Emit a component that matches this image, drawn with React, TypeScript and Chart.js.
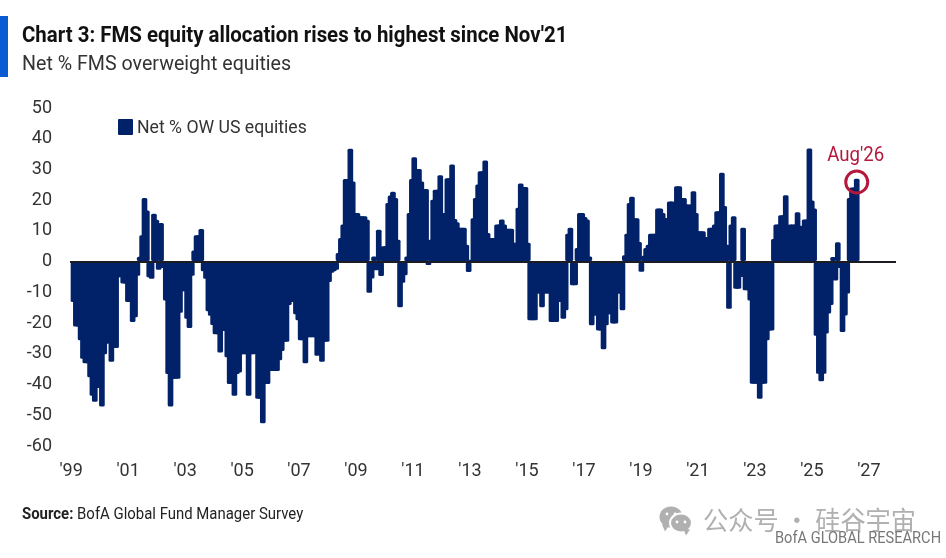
import React, { useEffect, useRef } from "react";
import { Chart, registerables } from "chart.js";

Chart.register(...registerables);

const seriesName = "Net % OW US equities";
const startYear = 1999;
const tickYears = [1999, 2001, 2003, 2005, 2007, 2009, 2011, 2013, 2015, 2017, 2019, 2021, 2023, 2025, 2027];
const yTicks = [50, 40, 30, 20, 10, 0, -10, -20, -30, -40, -50, -60];
const highlightLabel = "Aug'26";

const values1999to2008 = [
  -13, -21, -21, -25.5, -31.5, -33, -33, -37.5, -43.5, -45.5, -41, -41,
  -47, -30, -26.5, -26.5, -32.5, -28, -28, -5, -5, -7, -7, -13,
  -13, -19.5, -18, -4.5, 1.5, 8.5, 20.6, 16.5, -5, -5.5, 15.5, 13.5,
  -2.5, 12.5, -2, -12.5, -36.5, -47, -38, -38, -38, -16.5, -9.5, -9.5,
  -18.5, -21.5, -4.5, 3.5, 8.5, 8.5, 10.5, -3, -5.5, -16, -17.5, -20.5,
  -23.5, -23.5, -29.5, -22.5, -22.5, -31, -39.7, -38, -43.5, -36.5, -36, -30,
  -30, -30, -43.5, -30, -30, -29, -44.5, -44.5, -52.5, -39.7, -39.7, -35.5,
  -35.5, -35.5, -35.5, -32, -29, -26, -26, -14, -13, -13, -17, -19,
  -25.5, -25.5, -33, -24.5, -24.5, -24.5, -24.5, -30.5, -30, -32.5, -26, -26,
];
const values2008to2017 = [
  -6.5, -3.5, -3, -2.5, 2.7, 7.6, 12, 26.8, 26.8, 36.6, 26, 15.7,
  15.7, 14.7, 14.7, 14.7, 13.5, -10, -5.4, 1.6, -2.7, 10.3, -4.6, 4.9,
  4.9, 19, 21.4, 22.6, 20.6, 7, -14.7, -6.8, -4.3, 1.6, 15.7, 26.8,
  33.9, 30, 30, 26, 23.5, 23.5, -1, 7, 20, 23.3, 23.3, 28,
  15.7, 15.7, 27, 27, 31.5, 13.8, 12.7, 10.9, 10.9, 10.9, 5.4, -3.3,
  0.5, 14, 20.6, 25, 29.3, 29.3, 32.8, 9.2, 7.6, 7.6, 7.6, 12,
  12, 13.6, 12, 10.6, 10.6, 10.6, 6, 6, 17.4, 25.3, 24.2, 24.2,
  6, -19, -19, -19, -10.3, -10.3, -14.7, -10.3, -10.3, -10.3, -19.5, -19.5,
  -19.5, -13, -13, -18.5, -15.7, 9, 10.9, -7.6, -7.6, 4.3, 15.7, 15.7,
];
const values2017to2026 = [
  14.4, 13.6, 1.6, -20.6, -17.4, -17.4, -22.3, -22.3, -28.4, -20.6, -17, -17,
  -20, -20, -10.3, -10.3, -15.7, 2, 9, 19, 21, 14, 14, 6.3,
  -3.2, 1.8, 4.3, 5.4, 9, 9, 9, 17.2, 17.2, 15.7, 14.1, 9,
  19.5, 19.5, 9, 24.4, 24.4, 20.6, 20.6, 18.5, 18.5, 18.5, 22.8, 15.7,
  9.8, 9.8, 9.8, 7.9, 6.5, 10.9, 10.9, 12, 16.3, 16.3, 28.8, 18,
  5.4, -15.2, 12, 14.7, -8.7, -8.7, -4.9, 10.9, -9.2, -9.2, -12.5, -39.6,
  -39.6, -39.6, -44.5, -39.6, -39.6, -25.5, -22.3, -22.3, 7.3, 12, 12, 15,
  15, 21.5, 10.3, 12, 12, 12, 16, 11.6, 10.5, 13.6, 13.6, 36.7,
  19.8, 17.2, -24, -36.4, -38.8, -36.4, -23.3, -16.8, -14, 1.4, -6, 6.2,
  -2, -22.8, -17.4, -10.3, 20.6, 24, 24, 26.9,
];
const values = [...values1999to2008, ...values2008to2017, ...values2017to2026];

const NAVY = "#012169";
const TEXT = "#333333";
const FONT = "Roboto";

const overlayPlugin = {
  id: "overlay",
  afterDraw(chart: any) {
    const { ctx, scales } = chart;
    const last = values.length - 1;
    const cx = scales.x.getPixelForValue(last);
    const cy = scales.y.getPixelForValue(values[last]) + 3;
    ctx.save();
    ctx.strokeStyle = "#B5173D";
    ctx.lineWidth = 3;
    ctx.beginPath();
    ctx.arc(cx, cy, 11, 0, Math.PI * 2);
    ctx.stroke();
    ctx.fillStyle = "#B5173D";
    ctx.font = `20px ${FONT}`;
    ctx.textAlign = "center";
    ctx.textBaseline = "alphabetic";
    ctx.fillText(highlightLabel, cx - 1, cy - 21, 57);
    // WeChat-style watermark glyph
    ctx.fillStyle = "#b0b0b0";
    const bubble = (x: number, y: number, rx: number, ry: number, tx: number) => {
      ctx.beginPath();
      ctx.ellipse(x, y, rx, ry, 0, 0, Math.PI * 2);
      ctx.fill();
      ctx.beginPath();
      ctx.moveTo(x + tx - 3, y + ry - 3);
      ctx.lineTo(x + tx, y + ry + 4);
      ctx.lineTo(x + tx + 4, y + ry - 2);
      ctx.fill();
    };
    bubble(671, 517, 11.5, 10.5, -6);
    ctx.fillStyle = "#ffffff";
    ctx.beginPath();
    ctx.ellipse(681, 523, 12, 10.5, 0, 0, Math.PI * 2);
    ctx.fill();
    ctx.fillStyle = "#b0b0b0";
    bubble(681, 523, 10, 8.5, 5);
    ctx.fillStyle = "#ffffff";
    [[667, 514], [675, 514], [677, 522], [685, 522]].forEach(([x, y]) => {
      ctx.beginPath();
      ctx.arc(x, y, 1.4, 0, Math.PI * 2);
      ctx.fill();
    });
    ctx.restore();
  },
};

const textStyle = (left: number, top: number, scale: number, extra: React.CSSProperties = {}): React.CSSProperties => ({
  position: "absolute",
  left,
  top,
  whiteSpace: "nowrap",
  fontFamily: FONT,
  transformOrigin: "0 0",
  transform: `scaleX(${scale})`,
  lineHeight: 1,
  ...extra,
});

export default function App() {
  const ref = useRef<HTMLCanvasElement>(null);
  useEffect(() => {
    if (!ref.current) return;
    const chart = new Chart(ref.current, {
      type: "bar",
      data: {
        datasets: [
          {
            label: seriesName,
            data: values.map((v, i) => ({ x: i, y: v })),
            backgroundColor: NAVY,
            borderWidth: 0,
            barThickness: 5,
            borderRadius: 1.5,
            borderSkipped: false,
          },
        ],
      },
      options: {
        animation: false,
        responsive: false,
        maintainAspectRatio: false,
        layout: { padding: { top: 108, right: 50, left: 0, bottom: 0 } },
        plugins: {
          tooltip: { enabled: false },
          legend: { display: false },
        },
        scales: {
          x: {
            type: "linear",
            min: -1.48,
            max: 347.6,
            offset: false,
            grid: { display: false, drawTicks: false },
            border: { display: false },
            afterFit: (s: any) => { s.height = 112; },
            afterBuildTicks: (s: any) => {
              s.ticks = tickYears.map((y) => ({ value: (y - startYear) * 12 - 1 + (y - startYear) * 0.04 }));
            },
            ticks: {
              autoSkip: false,
              maxRotation: 0,
              padding: 15,
              color: TEXT,
              font: { family: FONT, size: 18 },
              callback: (_v: any, i: number) => `'${String(tickYears[i]).slice(2)}`,
            },
          },
          y: {
            min: -60,
            max: 50,
            afterFit: (s: any) => { s.width = 70; },
            afterBuildTicks: (s: any) => { s.ticks = yTicks.map((value) => ({ value })); },
            border: { display: false },
            grid: {
              z: 1,
              drawTicks: false,
              color: (c: any) => (c.tick && c.tick.value === 0 ? "#1c1c24" : "rgba(0,0,0,0)"),
              lineWidth: (c: any) => (c.tick && c.tick.value === 0 ? 2 : 0),
            },
            ticks: {
              padding: 18,
              color: TEXT,
              font: { family: FONT, size: 18 },
            },
          },
        },
      },
      plugins: [overlayPlugin],
    } as any);
    return () => chart.destroy();
  }, []);

  return (
    <div style={{ position: "absolute", left: 0, top: 0, width: 946, height: 558, background: "#fff", overflow: "hidden" }}>
      <canvas ref={ref} width={946} height={558} style={{ position: "absolute", left: 0, top: 0, width: 946, height: 558 }} />
      <div style={{ position: "absolute", left: 0, top: 16, width: 8, height: 61, background: "#0A5AD4" }} />
      <div style={textStyle(22, 24, 0.928, { fontWeight: 700, fontSize: 22, color: "#111" })}>
        Chart 3: FMS equity allocation rises to highest since Nov'21
      </div>
      <div style={textStyle(22, 53, 0.935, { fontSize: 21, color: TEXT })}>Net % FMS overweight equities</div>
      <div style={{ position: "absolute", left: 118, top: 119, width: 15, height: 16, background: NAVY, borderRadius: 1 }} />
      <div style={textStyle(137, 118, 0.98, { fontSize: 18, color: TEXT })}>{seriesName}</div>
      <div style={textStyle(22, 506, 0.933, { fontSize: 16, color: "#222" })}>
        <b>Source:</b> BofA Global Fund Manager Survey
      </div>
      <div style={textStyle(703, 506, 0.97, { fontFamily: "'Noto Sans CJK SC'", fontSize: 26, color: "#b0b0b0" })}>公众号 · 硅谷宇宙</div>
      <div style={textStyle(775, 529, 0.86, { fontSize: 17, color: "#777" })}>BofA GLOBAL RESEARCH</div>
    </div>
  );
}
